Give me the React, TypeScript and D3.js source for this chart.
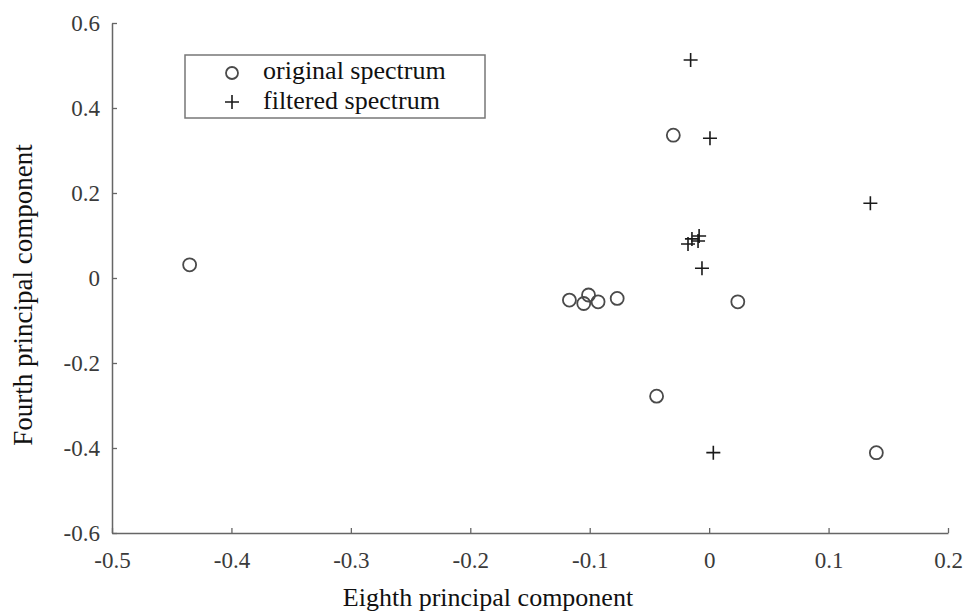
import React, { useRef, useEffect } from "react";
import * as d3 from "d3";

// original spectrum (circles)
const originalX = [-0.435, -0.117, -0.101, -0.105, -0.093, -0.077, 0.024, -0.044, -0.03, 0.14];
const originalY = [0.031, -0.052, -0.04, -0.06, -0.056, -0.048, -0.056, -0.278, 0.336, -0.411];

// filtered spectrum (crosses)
const filteredX = [-0.0155, 0.0007, -0.0177, -0.0144, -0.0093, -0.0084, -0.006, 0.135, 0.0035];
const filteredY = [0.513, 0.329, 0.08, 0.092, 0.087, 0.099, 0.023, 0.176, -0.411];

const xTicks = [-0.5, -0.4, -0.3, -0.2, -0.1, 0, 0.1, 0.2];
const yTicks = [-0.6, -0.4, -0.2, 0, 0.2, 0.4, 0.6];
const legendLabels = ["original spectrum", "filtered spectrum"];

const width = 966;
const height = 611;
const font = "Liberation Serif";

const App = () => {
  const svgRef = useRef<SVGSVGElement>(null);

  useEffect(() => {
    const svg = d3.select(svgRef.current);
    svg.selectAll("*").remove();

    const x = d3.scaleLinear().domain([-0.5, 0.2]).range([112, 948]);
    const y = d3.scaleLinear().domain([-0.6, 0.6]).range([533, 23]);
    const fmt = (d) => String(+(+d).toFixed(1));

    const axisColor = "#666";

    const gx = svg
      .append("g")
      .attr("transform", `translate(0,${y(-0.6)})`)
      .call(
        d3.axisBottom(x).tickValues(xTicks).tickFormat(fmt).tickSizeInner(-5).tickSizeOuter(0).tickPadding(19)
      );
    const gy = svg
      .append("g")
      .attr("transform", `translate(${x(-0.5)},0)`)
      .call(
        d3.axisLeft(y).tickValues(yTicks).tickFormat(fmt).tickSizeInner(-5).tickSizeOuter(0).tickPadding(12)
      );

    [gx, gy].forEach((g) => {
      g.attr("font-family", null).attr("font-size", null);
      g.select(".domain").attr("stroke", axisColor).attr("stroke-width", 1.5);
      g.selectAll(".tick line").attr("stroke", axisColor).attr("stroke-width", 1.3);
      g.selectAll(".tick text")
        .attr("fill", "#3a3a3a")
        .style("font", `23px "${font}"`);
    });

    // circles
    svg
      .append("g")
      .selectAll("circle")
      .data(originalX.map((v, i) => [v, originalY[i]]))
      .join("circle")
      .attr("cx", (d) => x(d[0]))
      .attr("cy", (d) => y(d[1]))
      .attr("r", 6.5)
      .attr("fill", "none")
      .attr("stroke", "#4a4a4a")
      .attr("stroke-width", 1.8);

    const cross = "M-7,0H7M0,-7V7";
    svg
      .append("g")
      .selectAll("path")
      .data(filteredX.map((v, i) => [v, filteredY[i]]))
      .join("path")
      .attr("transform", (d) => `translate(${x(d[0])},${y(d[1])})`)
      .attr("d", cross)
      .attr("stroke", "#1a1a1a")
      .attr("stroke-width", 1.6)
      .attr("fill", "none");

    // legend
    const lg = svg.append("g");
    lg.append("rect")
      .attr("x", 185)
      .attr("y", 55)
      .attr("width", 300)
      .attr("height", 63)
      .attr("fill", "white")
      .attr("stroke", "#777")
      .attr("stroke-width", 1.5);
    lg.append("circle")
      .attr("cx", 232)
      .attr("cy", 73)
      .attr("r", 6)
      .attr("fill", "none")
      .attr("stroke", "#4a4a4a")
      .attr("stroke-width", 1.8);
    lg.append("path")
      .attr("transform", "translate(232,102)")
      .attr("d", cross)
      .attr("stroke", "#1a1a1a")
      .attr("stroke-width", 1.6);
    lg.selectAll("text")
      .data(legendLabels)
      .join("text")
      .attr("x", 263)
      .attr("y", (d, i) => 79 + i * 30)
      .style("font", `26px "${font}"`)
      .attr("fill", "#111")
      .text((d) => d);

    // axis titles
    svg
      .append("text")
      .attr("x", 488)
      .attr("y", 606)
      .attr("text-anchor", "middle")
      .style("font", `26px "${font}"`)
      .attr("fill", "#111")
      .text("Eighth principal component");
    svg
      .append("text")
      .attr("transform", "translate(32,295) rotate(-90)")
      .attr("text-anchor", "middle")
      .style("font", `27px "${font}"`)
      .attr("fill", "#111")
      .text("Fourth principal component");
  }, []);

  return (
    <svg
      ref={svgRef}
      width={width}
      height={height}
      style={{ position: "absolute", left: 0, top: 0, background: "white" }}
    ></svg>
  );
};

export default App;
